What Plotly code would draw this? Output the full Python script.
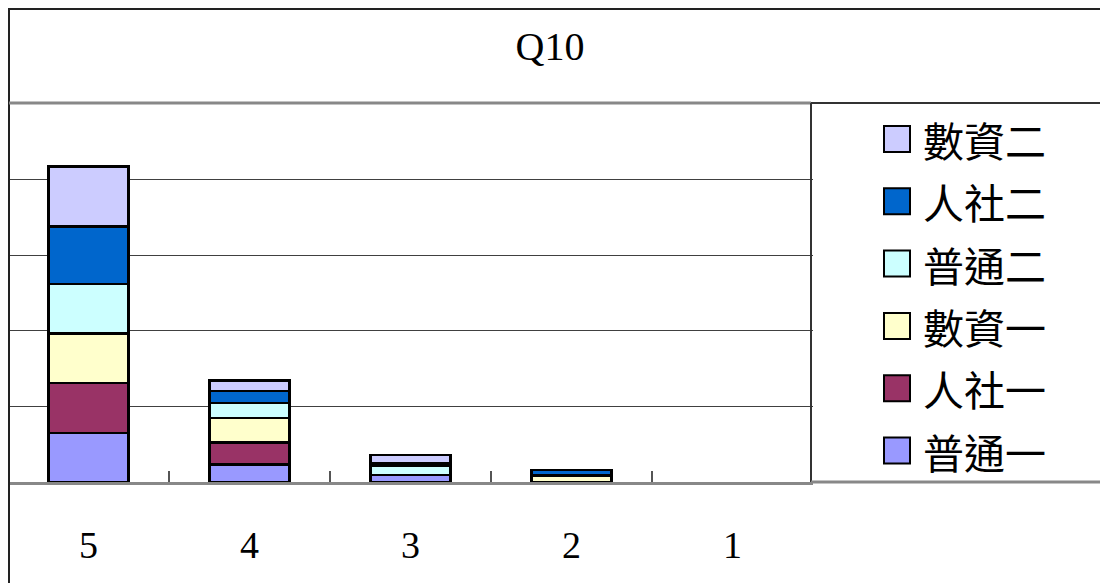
import plotly.graph_objects as go

# ---- data ----
categories = ["5", "4", "3", "2", "1"]
series_names = ["普通一", "人社一", "數資一", "普通二", "人社二", "數資二"]
series_colors = ["#9999FF", "#993366", "#FFFFCC", "#CCFFFF", "#0066CC", "#CCCCFF"]
v_putong1 = [13.0, 4.6, 1.85, None, None]
v_renshe1 = [13.2, 5.9, None, None, None]
v_shuzi1 = [13.1, 6.4, None, 1.7, None]
v_putong2 = [13.1, 4.0, 2.4, None, None]
v_renshe2 = [15.2, 3.2, 0.6, 1.5, None]
v_shuzi2 = [15.9, 2.8, 2.3, None, None]
series_values = [v_putong1, v_renshe1, v_shuzi1, v_putong2, v_renshe2, v_shuzi2]

W, H = 1108, 583
OFF = 8  # page body margin
L, R, T, B = 0, 303, 96, 109
PW = W - L - R
PH = H - T - B


def px(x):  # page x -> paper
    return (x - OFF - L) / PW


def py(y):  # page y -> paper
    return (H - B - (y - OFF)) / PH


fig = go.Figure()
for name, color, vals in zip(series_names, series_colors, series_values):
    fig.add_trace(go.Bar(
        x=categories, y=vals, name=name,
        marker=dict(color=color, line=dict(color="black", width=2.5)),
        showlegend=False,
    ))

shapes = []
# outer border (left + top)
shapes.append(dict(type="line", xref="paper", yref="paper", x0=px(9), x1=px(9), y0=py(8), y1=py(600),
                   line=dict(color="#222", width=2)))
shapes.append(dict(type="line", xref="paper", yref="paper", x0=px(8), x1=px(1120), y0=py(9), y1=py(9),
                   line=dict(color="#222", width=2)))
# top of plot area
shapes.append(dict(type="line", xref="paper", yref="paper", x0=px(9), x1=px(811), y0=py(103), y1=py(103),
                   line=dict(color="#888", width=3)))
# legend box
shapes.append(dict(type="line", xref="paper", yref="paper", x0=px(811), x1=px(1120), y0=py(103), y1=py(103),
                   line=dict(color="#333", width=2)))
shapes.append(dict(type="line", xref="paper", yref="paper", x0=px(811), x1=px(811), y0=py(103), y1=py(482),
                   line=dict(color="#333", width=2)))
shapes.append(dict(type="line", xref="paper", yref="paper", x0=px(811), x1=px(1120), y0=py(482), y1=py(482),
                   line=dict(color="#888", width=3)))

annotations = []
row0, step = 139, 62.3
for i, (name, color) in enumerate(zip(series_names[::-1], series_colors[::-1])):
    cy = row0 + i * step
    shapes.append(dict(type="rect", xref="paper", yref="paper",
                       x0=px(884), x1=px(910), y0=py(cy - 13), y1=py(cy + 13),
                       fillcolor=color, line=dict(color="black", width=2)))
    annotations.append(dict(xref="paper", yref="paper", x=px(921), y=py(cy), xanchor="left", yanchor="middle",
                            text=name, showarrow=False,
                            font=dict(family="Noto Sans CJK TC", size=41, color="black")))

fig.update_layout(
    width=W, height=H,
    margin=dict(l=L, r=R, t=T, b=B),
    barmode="stack", bargap=0.505,
    paper_bgcolor="white", plot_bgcolor="white",
    title=dict(text="Q10", x=(550 - OFF) / W, xanchor="center", y=1 - (46 - OFF) / H, yanchor="middle",
               font=dict(family="Liberation Serif", size=40, color="black")),
    xaxis=dict(type="category", showline=True, linecolor="#888", linewidth=3,
               ticks="inside", ticklen=11, tickcolor="#555", tickwidth=1.5, tickson="boundaries",
               showgrid=False, ticklabelstandoff=27,
               tickfont=dict(family="Liberation Serif", size=38, color="black")),
    yaxis=dict(range=[0, 100], dtick=20, showgrid=True, gridcolor="#404040", gridwidth=1,
               showticklabels=False, showline=False, zeroline=False, ticks=""),
    shapes=shapes, annotations=annotations,
    font=dict(family="Liberation Serif"),
)

fig.write_html("out.html")
